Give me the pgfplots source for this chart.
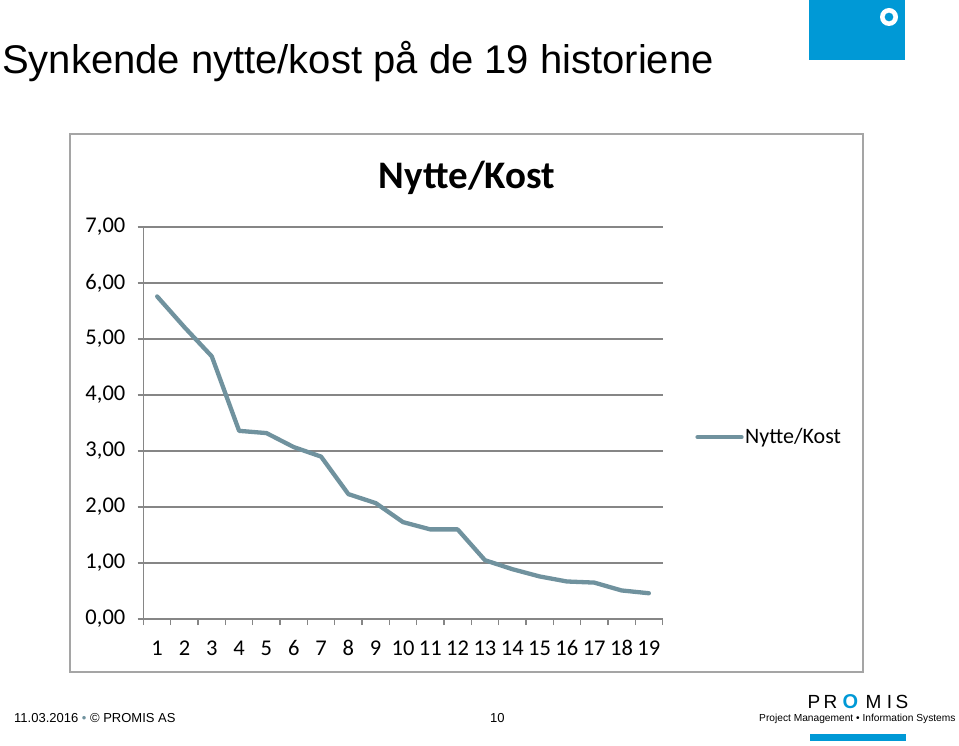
\documentclass[border=0pt]{standalone}
\usepackage{fontspec}
\setmainfont{Carlito}
\newfontfamily\arial{Liberation Sans}
\usepackage{pgfplots}
\pgfplotsset{compat=1.18}
\definecolor{linec}{RGB}{112,146,158}
\definecolor{gridc}{RGB}{134,134,134}
\definecolor{promisblue}{RGB}{0,153,214}
\definecolor{boxc}{RGB}{165,165,165}
\begin{document}
\begin{tikzpicture}[x=1pt,y=1pt]
\useasboundingbox (0,0) rectangle (959,745);
% slide title
\node[anchor=base west, font=\arial\fontsize{40}{48}\selectfont, inner sep=0] at (2,745-74) {Synkende nytte/kost på de 19 historiene};
% chart frame
\draw[boxc, line width=2pt] (70,745-672) rectangle (863,745-134);
\node[anchor=base, font=\bfseries\fontsize{39}{46}\selectfont, inner sep=0] at (467,745-189) {Nytte/Kost};
\begin{axis}[
  at={(143.5pt,126pt)}, anchor=south west,
  scale only axis, width=519pt, height=392pt,
  xmin=0.5, xmax=19.5, ymin=0, ymax=7,
  axis x line*=bottom, axis y line*=left,
  axis line style={gridc, line width=1.3pt},
  xtick={1,...,19},
  x tick style={draw=none},
  extra x ticks={0.5,1.5,...,19.5},
  extra x tick labels={},
  extra x tick style={x tick style={draw=gridc, line width=1.3pt}},
  ytick={0,...,7},
  tick align=outside,
  major tick length=6pt,
  y tick style={gridc, line width=1.3pt},
  ymajorgrids,
  major grid style={gridc, line width=1.3pt},
  /pgf/number format/assume math mode=true,
  yticklabel={\pgfmathprintnumber[fixed, fixed zerofill, precision=2, use comma]{\tick}},
  ticklabel style={font=\fontsize{22.5}{26}\selectfont},
  xticklabel style={inner sep=0pt, anchor=base, yshift=-30pt},
  yticklabel style={inner sep=0pt, xshift=-12pt},
  clip=false,
  legend image code/.code={\draw[#1] (0pt,0pt) -- (44pt,0pt);},
  legend style={draw=none, fill=none, at={(rel axis cs:1.063,0.464)}, anchor=west, font=\fontsize{22}{26}\selectfont, inner sep=0pt, nodes={inner sep=1.5pt}},
]
\addplot[linec, line width=4.3pt, line join=round, line cap=round] coordinates {
(1,5.76) (2,5.21) (3,4.69) (4,3.36) (5,3.32) (6,3.07) (7,2.90) (8,2.23) (9,2.07) (10,1.73)
(11,1.60) (12,1.60) (13,1.05) (14,0.89) (15,0.76) (16,0.67) (17,0.65) (18,0.51) (19,0.46)
};
\addlegendentry{Nytte/Kost}
\end{axis}
% top-right logo block
\fill[promisblue] (809,745-60) rectangle (905,745);
\fill[white, even odd rule] (889,745-17) circle (9pt) circle (4.5pt);
% footer
\node[anchor=base west, font=\arial\fontsize{13}{15}\selectfont, inner sep=0] at (14,745-722) {11.03.2016 {\color{linec}•} © PROMIS AS};
\node[anchor=base west, font=\arial\fontsize{13}{15}\selectfont, inner sep=0] at (490,745-722) {10};
% PROMIS logo
\begin{scope}[every node/.style={anchor=base, inner sep=0, font=\arial\fontsize{19}{22}\selectfont}]
\node at (814,745-708) {P};
\node at (830.5,745-708) {R};
\node[text=promisblue, font=\arial\bfseries\fontsize{20}{22}\selectfont] at (850.5,745-708) {O};
\node at (873.5,745-708) {M};
\node at (889.5,745-708) {I};
\node at (902,745-708) {S};
\end{scope}
\node[anchor=base west, font=\arial\fontsize{10.2}{12}\selectfont, inner sep=0] at (759,745-721) {Project Management • Information Systems};
\fill[promisblue] (810,745-741) rectangle (906,745-734);
\end{tikzpicture}
\end{document}
